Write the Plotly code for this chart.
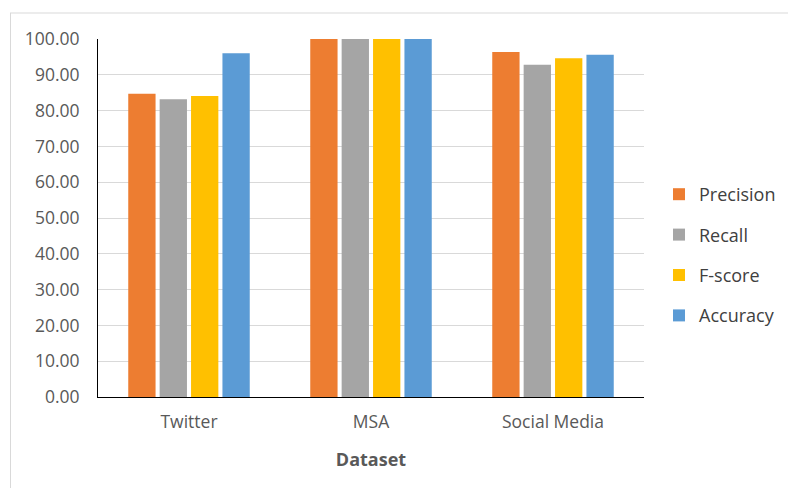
import plotly.graph_objects as go

categories = ["Twitter", "MSA", "Social Media"]
precision = [84.7, 100.0, 96.4]
recall = [83.2, 100.0, 92.8]
fscore = [84.1, 100.0, 94.6]
accuracy = [96.0, 100.0, 95.6]

series = [
    ("Precision", precision, "#ED7D31"),
    ("Recall", recall, "#A5A5A5"),
    ("F-score", fscore, "#FFC000"),
    ("Accuracy", accuracy, "#5B9BD5"),
]

FONT = "Open Sans"
fig = go.Figure()
for i, (name, vals, col) in enumerate(series):
    fig.add_trace(go.Bar(x=categories, y=vals, name=name, marker_color=col,
                         marker_line_width=0, legendgroup=f"g{i}"))

L, R, T, B = 98, 144, 39, 91
W, H = 788, 488
pw, ph = W - L - R, H - T - B

def px_x(px):
    return (px - L) / pw

def px_y(py):
    return (H - B - py) / ph

fig.update_layout(
    width=W, height=H,
    margin=dict(l=L, r=R, t=T, b=B, pad=0, autoexpand=False),
    paper_bgcolor="white", plot_bgcolor="white",
    barmode="group", bargap=0.31, bargroupgap=0.13,
    font=dict(family=FONT, size=17, color="#595959"),
    legend=dict(x=px_x(659), xanchor="left", y=px_y(255), yanchor="middle",
                font=dict(family=FONT, size=18, color="#404040"),
                tracegroupgap=14, itemwidth=30, bgcolor="rgba(0,0,0,0)"),
    xaxis=dict(showline=True, linecolor="black", linewidth=1, showgrid=False,
               ticks="", ticklabelstandoff=9, tickfont=dict(size=17.5, color="#595959"),
               title=dict(text="<b>Dataset</b>", font=dict(size=18, color="#595959"), standoff=21)),
    yaxis=dict(range=[0, 100], dtick=10, tickformat=".2f", showline=True,
               linecolor="black", linewidth=1, showgrid=True, gridcolor="#d9d9d9",
               gridwidth=1, ticks="", ticklabelstandoff=14, zeroline=False,
               tickfont=dict(size=17.5, color="#595959")),
    shapes=[
        dict(type="line", xref="paper", yref="paper", x0=px_x(10.5), x1=px_x(10.5),
             y0=px_y(488), y1=px_y(13), line=dict(color="#d9d9d9", width=1)),
        dict(type="line", xref="paper", yref="paper", x0=px_x(10), x1=px_x(788),
             y0=px_y(13), y1=px_y(13), line=dict(color="#d9d9d9", width=1)),
    ],
)

fig.write_html("out.html")
